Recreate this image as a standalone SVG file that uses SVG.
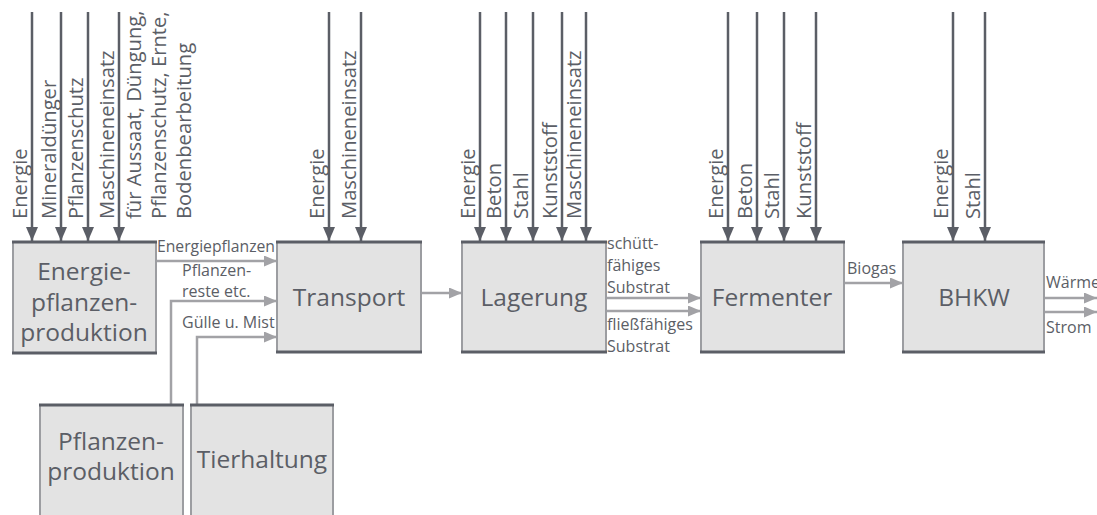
<svg xmlns="http://www.w3.org/2000/svg" width="1097" height="515" viewBox="0 0 1097 515">
<style>
.box{fill:#e3e3e3;stroke:#9c9da1;stroke-width:2}
.edge{stroke:#5b5e66;stroke-width:3;fill:none}
.in{stroke:#5b5e66;stroke-width:2.5;fill:none;marker-end:url(#ad)}
.flow{stroke:#a2a2a6;stroke-width:2.5;fill:none;marker-end:url(#ag)}
.t{font-family:"Open Sans","Noto Sans",sans-serif;fill:#5b5e66}
.bl{font-size:24.5px;text-anchor:middle}
.rl{font-size:20.2px}
.sl{font-size:16px}
</style>
<defs>
<marker id="ad" markerUnits="userSpaceOnUse" markerWidth="14" markerHeight="12" refX="14" refY="6" orient="auto" viewBox="0 0 14 12"><path d="M0,0L14,6L0,12z" fill="#5b5e66"/></marker>
<marker id="ag" markerUnits="userSpaceOnUse" markerWidth="13" markerHeight="11" refX="13" refY="5.5" orient="auto" viewBox="0 0 13 11"><path d="M0,0L13,5.5L0,11z" fill="#a2a2a6"/></marker>
</defs>
<g id="connectors">
<path class="in" d="M32,12V241"/><path class="in" d="M61,12V241"/><path class="in" d="M88,12V241"/><path class="in" d="M119,12V241"/>
<path class="in" d="M329,12V241"/><path class="in" d="M361,12V241"/>
<path class="in" d="M480,12V241"/><path class="in" d="M506,12V241"/><path class="in" d="M533,12V241"/><path class="in" d="M562,12V241"/><path class="in" d="M586,12V241"/>
<path class="in" d="M728,12V241"/><path class="in" d="M757,12V241"/><path class="in" d="M784,12V241"/><path class="in" d="M816,12V241"/>
<path class="in" d="M953,12V241"/><path class="in" d="M985,12V241"/>
<path class="flow" d="M156,261H277"/>
<path class="flow" d="M171,405V301H277"/>
<path class="flow" d="M197,405V337H277"/>
<path class="flow" d="M421,293H462"/>
<path class="flow" d="M606,298H701"/>
<path class="flow" d="M606,311H701"/>
<path class="flow" d="M844,283H903"/>
<path class="flow" d="M1044,298H1097"/>
<path class="flow" d="M1044,312H1097"/>
</g>
<g id="input-labels" class="t rl">
<text x="27" y="219" transform="rotate(-90 27 219)">Energie</text>
<text x="56" y="219" transform="rotate(-90 56 219)">Mineraldünger</text>
<text x="83" y="219" transform="rotate(-90 83 219)">Pflanzenschutz</text>
<text x="114" y="219" transform="rotate(-90 114 219)">Maschineneinsatz</text>
<text x="141" y="219" transform="rotate(-90 141 219)">für Aussaat, Düngung,</text>
<text x="166" y="219" transform="rotate(-90 166 219)">Pflanzenschutz, Ernte,</text>
<text x="191" y="219" transform="rotate(-90 191 219)">Bodenbearbeitung</text>
<text x="324" y="219" transform="rotate(-90 324 219)">Energie</text>
<text x="356" y="219" transform="rotate(-90 356 219)">Maschineneinsatz</text>
<text x="475" y="219" transform="rotate(-90 475 219)">Energie</text>
<text x="501" y="219" transform="rotate(-90 501 219)">Beton</text>
<text x="528" y="219" transform="rotate(-90 528 219)">Stahl</text>
<text x="557" y="219" transform="rotate(-90 557 219)">Kunststoff</text>
<text x="581" y="219" transform="rotate(-90 581 219)">Maschineneinsatz</text>
<text x="723" y="219" transform="rotate(-90 723 219)">Energie</text>
<text x="752" y="219" transform="rotate(-90 752 219)">Beton</text>
<text x="779" y="219" transform="rotate(-90 779 219)">Stahl</text>
<text x="811" y="219" transform="rotate(-90 811 219)">Kunststoff</text>
<text x="948" y="219" transform="rotate(-90 948 219)">Energie</text>
<text x="980" y="219" transform="rotate(-90 980 219)">Stahl</text>
</g>
<g id="flow-labels" class="t sl">
<text x="157" y="252" textLength="118" lengthAdjust="spacingAndGlyphs">Energiepflanzen</text>
<text x="182" y="276">Pflanzen-</text>
<text x="182" y="297">reste etc.</text>
<text x="182" y="328">Gülle u. Mist</text>
<text x="607" y="249">schütt-</text>
<text x="607" y="271">fähiges</text>
<text x="607" y="293">Substrat</text>
<text x="607" y="330">fließfähiges</text>
<text x="607" y="352">Substrat</text>
<text x="847" y="274">Biogas</text>
<text x="1046" y="288">Wärme</text>
<text x="1046" y="333">Strom</text>
</g>
<g id="energiepflanzenproduktion">
<rect class="box" x="13" y="242" width="143" height="111"/>
<path class="edge" d="M12,242H157M12,353H157"/>
<text class="t bl" x="84" y="280">Energie-</text>
<text class="t bl" x="84" y="311">pflanzen-</text>
<text class="t bl" x="84" y="341">produktion</text>
</g>
<g id="transport">
<rect class="box" x="277" y="242" width="144" height="110"/>
<path class="edge" d="M276,242H422M276,352H422"/>
<text class="t bl" x="349" y="306">Transport</text>
</g>
<g id="lagerung">
<rect class="box" x="462" y="242" width="144" height="110"/>
<path class="edge" d="M461,242H607M461,352H607"/>
<text class="t bl" x="534" y="306">Lagerung</text>
</g>
<g id="fermenter">
<rect class="box" x="701" y="242" width="143" height="110"/>
<path class="edge" d="M700,242H845M700,352H845"/>
<text class="t bl" x="772" y="306">Fermenter</text>
</g>
<g id="bhkw">
<rect class="box" x="903" y="242" width="141" height="110"/>
<path class="edge" d="M902,242H1045M902,352H1045"/>
<text class="t bl" x="974" y="306">BHKW</text>
</g>
<g id="pflanzenproduktion">
<rect class="box" x="40" y="405" width="143" height="115"/>
<path class="edge" d="M39,405H184"/>
<text class="t bl" x="111" y="450">Pflanzen-</text>
<text class="t bl" x="111" y="480">produktion</text>
</g>
<g id="tierhaltung">
<rect class="box" x="191" y="405" width="142" height="115"/>
<path class="edge" d="M190,405H334"/>
<text class="t bl" x="262" y="468">Tierhaltung</text>
</g>
</svg>
